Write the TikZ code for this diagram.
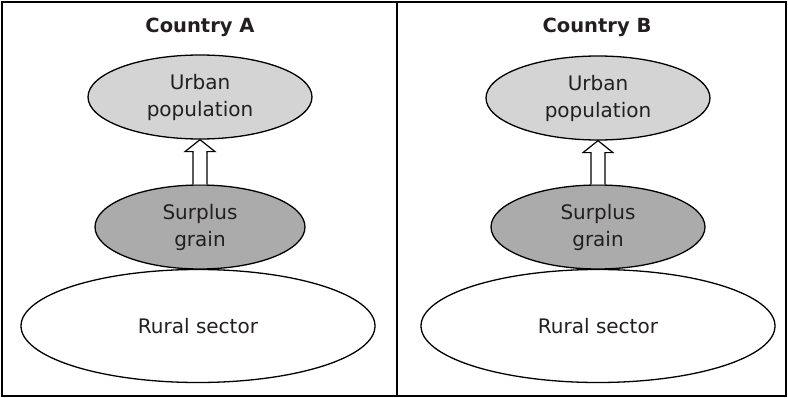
\documentclass[tikz,border=0pt]{standalone}
\usepackage{fontspec}
\setmainfont{DejaVu Sans}
\usetikzlibrary{calc,shapes.geometric}
\definecolor{txt}{HTML}{231F20}
\definecolor{urbanfill}{HTML}{D4D4D4}
\definecolor{surplusfill}{HTML}{ABABAB}
\tikzset{
  ell/.style={ellipse,draw=black,line width=1.3pt,inner sep=0pt,text=txt,align=center,
    font=\fontsize{20}{27}\selectfont},
  urban/.style={ell,fill=urbanfill,minimum width=224pt,minimum height=84pt},
  surplus/.style={ell,fill=surplusfill,minimum width=210pt,minimum height=84pt},
  rural/.style={ell,fill=white,minimum width=354pt,minimum height=113pt},
  title/.style={font=\fontsize{19.5}{22}\selectfont\bfseries,text=txt},
  frame/.style={draw=black,line width=2pt},
  blockarrow/.style={draw=black,line width=1.2pt,fill=white,line join=miter}
}
\begin{document}
\begin{tikzpicture}[x=1pt,y=-1pt]
\useasboundingbox (0,0) rectangle (788,398);
\draw[frame] (2,2) rectangle (786,396);
\draw[frame] (397,2) -- (397,396);
% Country A
\node[title] (ta) at (200,27.5) {Country A};
\node[rural] (ra) at (198,326) {Rural sector};
\node[surplus] (sa) at (200,227) {Surplus\\grain};
\node[urban] (ua) at (200,97) {Urban\\population};
\draw[blockarrow] ($(sa.north)+(-7,0)$) -- ($(ua.south)+(-7,12)$) -- ($(ua.south)+(-15,12)$)
  -- (ua.south) -- ($(ua.south)+(15,12)$) -- ($(ua.south)+(7,12)$) -- ($(sa.north)+(7,0)$);
% Country B
\node[title] (tb) at (597,27.5) {Country B};
\node[rural] (rb) at (598,326) {Rural sector};
\node[surplus,minimum width=214pt] (sb) at (598,227) {Surplus\\grain};
\node[urban] (ub) at (598,98) {Urban\\population};
\draw[blockarrow] ($(sb.north)+(-7,0)$) -- ($(ub.south)+(-7,12)$) -- ($(ub.south)+(-15,12)$)
  -- (ub.south) -- ($(ub.south)+(15,12)$) -- ($(ub.south)+(7,12)$) -- ($(sb.north)+(7,0)$);
\end{tikzpicture}
\end{document}
